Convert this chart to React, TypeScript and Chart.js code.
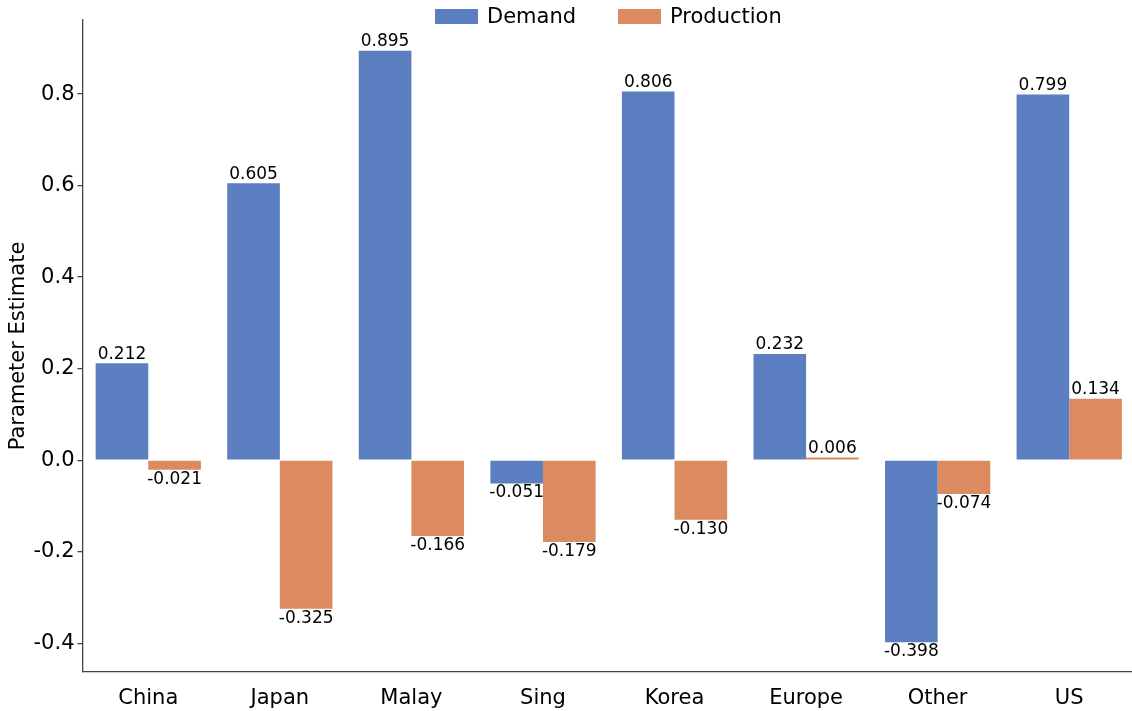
import React, { useEffect, useRef } from "react";
import { Chart, registerables } from "chart.js";

Chart.register(...registerables);

const categories = ["China", "Japan", "Malay", "Sing", "Korea", "Europe", "Other", "US"];
const demand = [0.212, 0.605, 0.895, -0.051, 0.806, 0.232, -0.398, 0.799];
const production = [-0.021, -0.325, -0.166, -0.179, -0.13, 0.006, -0.074, 0.134];
const seriesNames = ["Demand", "Production"];
const yTicks = [-0.4, -0.2, 0.0, 0.2, 0.4, 0.6, 0.8];
const yTitle = "Parameter Estimate";

const BLUE = "rgb(91,127,192)";
const ORANGE = "rgb(219,139,95)";
const FONT = '"DejaVu Sans", sans-serif';
const AXIS = "#444444";

export default function App() {
  const ref = useRef<HTMLCanvasElement | null>(null);

  useEffect(() => {
    if (!ref.current) return;

    const labelPlugin = {
      id: "barLabels",
      afterDatasetsDraw(chart: any) {
        const ctx = chart.ctx;
        ctx.save();
        ctx.font = `17px ${FONT}`;
        ctx.fillStyle = "#000";
        ctx.textAlign = "center";
        chart.data.datasets.forEach((ds: any, di: number) => {
          const meta = chart.getDatasetMeta(di);
          meta.data.forEach((bar: any, i: number) => {
            const v = ds.data[i] as number;
            const { x, y } = bar.getProps(["x", "y"], true);
            const txt = v.toFixed(3);
            if (v >= 0) {
              ctx.textBaseline = "bottom";
              ctx.fillText(txt, x, y - 0.5);
            } else {
              ctx.textBaseline = "top";
              ctx.fillText(txt, x, y + 1);
            }
          });
        });
        ctx.restore();
      },
    };

    const legendPlugin = {
      id: "customLegend",
      afterDraw(chart: any) {
        const ctx = chart.ctx;
        ctx.save();
        ctx.font = `21px ${FONT}`;
        ctx.textBaseline = "middle";
        ctx.textAlign = "left";
        const items = [
          { x: 435, color: BLUE, text: seriesNames[0] },
          { x: 618, color: ORANGE, text: seriesNames[1] },
        ];
        items.forEach((it) => {
          ctx.fillStyle = it.color;
          ctx.fillRect(it.x, 9, 43, 15);
          ctx.fillStyle = "#000";
          ctx.fillText(it.text, it.x + 52, 18);
        });
        ctx.restore();
      },
    };

    const chart = new Chart(ref.current, {
      type: "bar",
      data: {
        labels: categories,
        datasets: [
          {
            label: seriesNames[0],
            data: demand,
            backgroundColor: BLUE,
            borderWidth: 0,
            categoryPercentage: 0.8,
            barPercentage: 1.0,
          },
          {
            label: seriesNames[1],
            data: production,
            backgroundColor: ORANGE,
            borderWidth: 0,
            categoryPercentage: 0.8,
            barPercentage: 1.0,
          },
        ],
      },
      options: {
        animation: false,
        responsive: true,
        maintainAspectRatio: false,
        layout: { padding: { top: 20, left: 0, right: 0, bottom: 0 } },
        plugins: {
          legend: { display: false },
          tooltip: { enabled: false },
          title: { display: false },
        },
        scales: {
          x: {
            type: "category",
            offset: true,
            grid: { display: true, drawOnChartArea: false, drawTicks: false },
            border: { display: true, color: AXIS, width: 1.3 },
            ticks: {
              color: "#000",
              font: { family: FONT, size: 21 },
              padding: 14,
              maxRotation: 0,
            },
            afterFit(scale: any) {
              scale.height = 39;
            },
          },
          y: {
            type: "linear",
            min: -0.463,
            max: 0.962,
            grid: {
              display: true,
              drawOnChartArea: false,
              drawTicks: true,
              tickLength: 5,
              color: AXIS,
              lineWidth: 1.3,
            },
            border: { display: true, color: AXIS, width: 1.3 },
            ticks: {
              color: "#000",
              font: { family: FONT, size: 21 },
              padding: 3,
              includeBounds: false,
              callback: (v: any) => Number(v).toFixed(1),
            },
            afterBuildTicks(scale: any) {
              scale.ticks = yTicks.map((v) => ({ value: v }));
            },
            title: {
              display: true,
              text: yTitle,
              color: "#000",
              font: { family: FONT, size: 21 },
              padding: { top: 6, bottom: 0 },
            },
            afterFit(scale: any) {
              scale.width = 82.5;
            },
          },
        },
      },
      plugins: [labelPlugin, legendPlugin],
    });

    return () => chart.destroy();
  }, []);

  return (
    <div style={{ position: "absolute", left: 0, top: 0, width: 1132, height: 711, overflow: "hidden" }}>
      <div style={{ position: "relative", width: 1135, height: 711 }}>
        <canvas ref={ref} />
      </div>
    </div>
  );
}
